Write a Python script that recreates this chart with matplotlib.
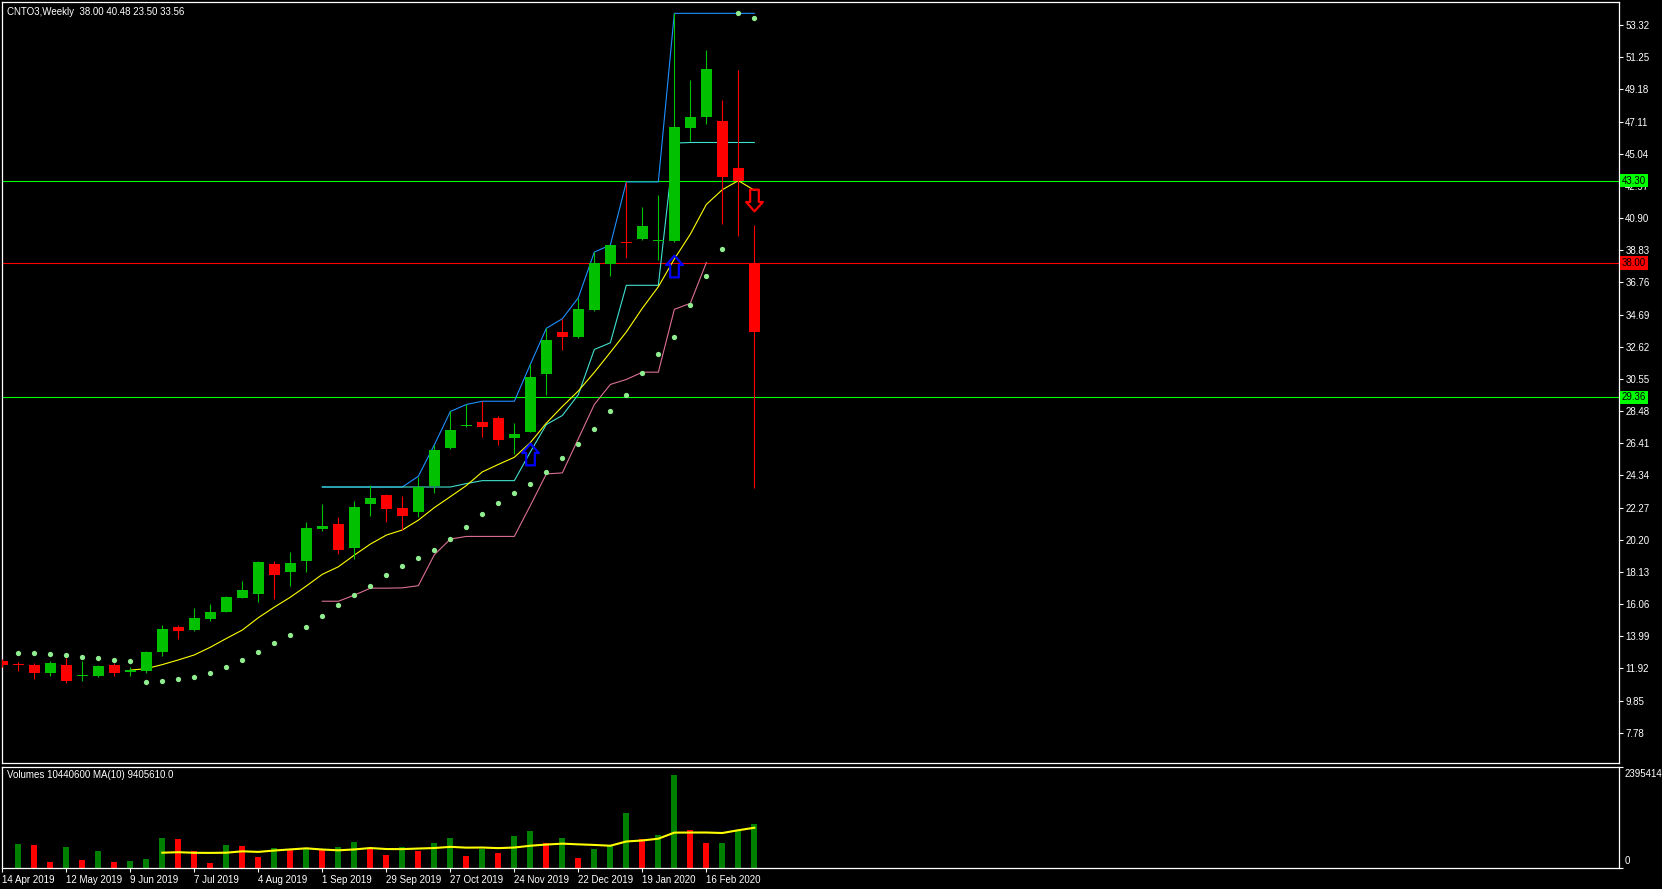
import numpy as np
import pandas as pd
import matplotlib
matplotlib.use('Agg')
import matplotlib.pyplot as plt
from matplotlib.path import Path
from matplotlib.transforms import blended_transform_factory

plt.rcParams['font.family'] = ['Liberation Sans', 'DejaVu Sans']

# weekly bars, 14 Apr 2019 .. 8 Mar 2020
tick_idx = [0, 4, 8, 12, 16, 20, 24, 28, 32, 36, 40, 44]
tick_labels = ['14 Apr 2019', '12 May 2019', '9 Jun 2019', '7 Jul 2019', '4 Aug 2019',
               '1 Sep 2019', '29 Sep 2019', '27 Oct 2019', '24 Nov 2019', '22 Dec 2019',
               '19 Jan 2020', '16 Feb 2020']

open_ = [12.41, 12.22, 12.15, 11.59, 12.15, 11.40, 11.46, 12.15, 11.66, 11.72,
         12.95, 14.60, 14.41, 15.12, 15.56, 16.46, 16.72, 18.65, 18.13, 18.84,
         20.91, 21.23, 19.68, 22.52, 23.10, 22.26, 22.00, 23.68, 26.13, 27.50,
         27.80, 28.00, 26.77, 27.16, 30.83, 33.56, 33.22, 34.97, 37.92, 39.35,
         39.53, 39.45, 39.40, 46.68, 47.39, 47.13, 44.10, 38.00]
high = [12.50, 12.30, 12.28, 12.41, 12.60, 12.41, 12.12, 12.28, 12.02, 13.05,
        14.73, 14.73, 15.82, 16.08, 16.55, 17.55, 18.80, 18.84, 19.42, 21.36,
        22.52, 21.68, 22.71, 23.74, 23.16, 23.04, 24.26, 26.30, 28.45, 28.90,
        29.11, 28.19, 27.74, 31.48, 33.80, 34.42, 35.77, 38.71, 39.16, 43.22,
        41.59, 42.36, 54.07, 49.78, 51.71, 48.49, 50.42, 40.48]
low = [12.00, 11.76, 11.25, 11.46, 11.01, 11.08, 11.34, 11.46, 11.46, 11.64,
       12.69, 13.78, 14.34, 14.99, 15.54, 16.44, 16.20, 16.39, 17.23, 18.13,
       20.78, 19.29, 18.97, 21.74, 21.36, 20.84, 21.68, 23.23, 26.06, 27.48,
       26.84, 26.32, 25.74, 27.10, 29.54, 32.40, 33.20, 34.90, 37.17, 38.33,
       39.50, 38.20, 39.38, 45.87, 46.94, 40.49, 39.74, 23.50]
close = [12.15, 12.11, 11.64, 12.28, 11.12, 11.44, 12.09, 11.64, 11.79, 12.99,
         14.47, 14.34, 15.18, 15.57, 16.52, 16.97, 18.78, 17.94, 18.71, 20.97,
         21.10, 19.55, 22.32, 22.90, 22.19, 21.75, 23.61, 26.00, 27.29, 27.53,
         27.48, 26.64, 27.03, 30.70, 33.02, 33.24, 35.02, 38.03, 39.14, 39.30,
         40.37, 39.48, 46.75, 47.39, 50.48, 43.55, 43.29, 33.56]
nan = np.nan
# first week's volume bar is hidden behind the left border
volume = [nan, 5730000, 5490000, 1480000, 5020000, 1960000, 4080000, 1480000, 1720000, 2190000,
          7140000, 6910000, 4080000, 1250000, 5490000, 5260000, 2660000, 4780000, 4310000, 4790000,
          4300000, 5020000, 6200000, 4550000, 3130000, 5020000, 4080000, 5960000, 7140000, 2900000,
          4550000, 3610000, 7610000, 8790000, 5960000, 7140000, 2430000, 4550000, 5260000, 13030000,
          6910000, 7850000, 21990000, 9030000, 5950000, 6000000, 9030000, 10440600]

# parabolic SAR dots
sar = [nan, 12.90, 12.90, 12.84, 12.77, 12.65, 12.58, 12.45, 12.39, 11.03,
       11.10, 11.23, 11.36, 11.61, 12.00, 12.45, 12.97, 13.55, 14.06, 14.58,
       15.29, 16.00, 16.63, 17.21, 17.92, 18.50, 19.02, 19.53, 20.24, 21.02,
       21.85, 22.56, 23.21, 23.79, 24.56, 25.46, 26.36, 27.33, 28.49, 29.52,
       30.94, 32.16, 33.26, 35.32, 37.19, 38.93, 54.07, 53.75]
# channel lines (blue / cyan / pink)
upper = [nan] * 20 + [23.59, 23.59, 23.59, 23.59, 23.59, 23.59, 24.28, 26.30, 28.45, 28.90,
                      29.11, 29.11, 29.11, 31.48, 33.80, 34.42, 35.77, 38.71, 39.16, 43.22,
                      43.22, 43.22, 54.07, 54.07, 54.07, 54.07, 54.07, 54.07]
middle = [nan] * 20 + [23.59, 23.59, 23.59, 23.59, 23.59, 23.59, 23.59, 23.59, 23.59, 23.81,
                       24.00, 24.00, 24.00, 25.84, 27.61, 28.19, 29.54, 32.44, 32.87, 36.57,
                       36.57, 36.57, 45.72, 45.76, 45.76, 45.76, 45.76, 45.76]
lower = [nan] * 20 + [16.24, 16.24, 16.63, 17.08, 17.08, 17.10, 17.24, 19.23, 20.24, 20.41,
                      20.41, 20.41, 20.41, 22.40, 24.43, 24.50, 26.70, 28.90, 30.19, 30.51,
                      30.98, 30.98, 35.02, 35.41, 38.03, nan, nan, nan]

sig_idx = [33, 42, 47]
sig_price = [25.74, 37.82, 42.08]
sig_dir = ['up', 'up', 'down']

levels = [43.30, 38.00, 29.36]
level_colors = ['#00ff00', '#ff0000', '#00ff00']

yticks = [53.32, 51.25, 49.18, 47.11, 45.04, 42.97, 40.90, 38.83, 36.76, 34.69, 32.62,
          30.55, 28.48, 26.41, 24.34, 22.27, 20.20, 18.13, 16.06, 13.99, 11.92, 9.85, 7.78]
vol_top = 23954145

o = np.array(open_); h = np.array(high); l = np.array(low); c = np.array(close)
v = np.array(volume, dtype=float)
x = np.arange(len(c))

W, H = 1662, 889
fig = plt.figure(figsize=(W / 100, H / 100), dpi=100, facecolor='black')
ax = fig.add_axes([2 / W, (H - 763) / H, 1617 / W, 761 / H], facecolor='black')
vax = fig.add_axes([2 / W, (H - 868) / H, 1617 / W, 101 / H], facecolor='black')

for a in (ax, vax):
    for s in a.spines.values():
        s.set_color('white')
        s.set_linewidth(0.9)
    a.set_xlim(-0.02, 101.04)

ax.set_ylim(5.83, 54.80)

# levels
for lv, col in zip(levels, level_colors):
    ax.axhline(lv, color=col, lw=0.8, zorder=1)

# channel + MA
ax.plot(x, upper, color='#1e90ff', lw=0.8, zorder=2)
ax.plot(x, middle, color='#40e0d0', lw=0.8, zorder=2)
ax.plot(x, lower, color='#db7093', lw=0.8, zorder=2)
ma9 = pd.Series(c).rolling(9).mean()
ax.plot(x, ma9, color='#ffff00', lw=0.8, zorder=2)

# candles
up = c >= o
ccol = np.where(up, '#00c000', '#ff0000')
ax.vlines(x, l, h, colors=ccol, lw=0.8, zorder=3)
ax.bar(x, np.maximum(np.abs(c - o), 0.065), bottom=np.minimum(o, c), width=0.69,
       color=ccol, lw=0, zorder=3)

ax.plot(x, sar, 'o', ms=3.8, color='#90ee90', mec='none', zorder=4)

# arrows
arrow_up = Path([(0, 1), (0.77, 0.14), (0.40, 0.14), (0.40, -1), (-0.40, -1),
                 (-0.40, 0.14), (-0.77, 0.14), (0, 1)], closed=True)
arrow_dn = Path([(px, -py) for px, py in arrow_up.vertices], closed=True)
for i, p, d in zip(sig_idx, sig_price, sig_dir):
    ax.plot(i, p, ls='none', marker=arrow_up if d == 'up' else arrow_dn, ms=15.6,
            mfc='none', mec='#0000ff' if d == 'up' else '#ff0000', mew=1.6, zorder=5)

ax.yaxis.tick_right()
ax.set_yticks(yticks)
ax.set_yticklabels([f'{t:.2f}' for t in yticks])
ax.tick_params(axis='y', colors='white', length=3, width=0.8, pad=1.5, labelsize=7)
ax.set_xticks([])

tr = blended_transform_factory(ax.transAxes, ax.transData)
for lv, col in zip(levels, level_colors):
    ax.text(1.0018, lv, f'{lv:.2f}', transform=tr, va='center', ha='left', fontsize=7,
            color='black', bbox=dict(boxstyle='square,pad=0.18', fc=col, ec='none'), zorder=6)

ax.text(0.003, 0.993, f'CNTO3,Weekly  {o[-1]:.2f} {h[-1]:.2f} {l[-1]:.2f} {c[-1]:.2f}',
        transform=ax.transAxes, va='top', ha='left', fontsize=7, color='white')

# volumes: green when volume rises against the previous week
vcol = ['#008000' if (i == 0 or np.isnan(v[i - 1]) or v[i] > v[i - 1]) else '#ff0000'
        for i in range(len(v))]
vax.bar(x, np.nan_to_num(v), width=0.38, color=vcol, lw=0)
vma = pd.Series(v).rolling(10).mean()
vax.plot(x, vma, color='#ffff00', lw=1.5)
vax.set_ylim(0, vol_top)
vax.yaxis.tick_right()
vax.set_yticks([0, vol_top])
vax.set_yticklabels([])
vax.tick_params(axis='y', colors='white', length=3, width=0.8)
vax.text(1.0035, 0.98, f'{vol_top}', transform=vax.transAxes, va='top', ha='left',
         fontsize=7, color='white')
vax.text(1.0035, 0.02, '0', transform=vax.transAxes, va='bottom', ha='left',
         fontsize=7, color='white')
vax.text(0.003, 0.97, 'Volumes 10440600 MA(10) 9405610.0', transform=vax.transAxes,
         va='top', ha='left', fontsize=7, color='white')

vax.set_xticks(tick_idx)
vax.set_xticklabels(tick_labels, ha='left')
vax.tick_params(axis='x', colors='white', length=3, width=0.8, pad=2, labelsize=7)

fig.savefig('out.png', dpi=100, facecolor='black')
